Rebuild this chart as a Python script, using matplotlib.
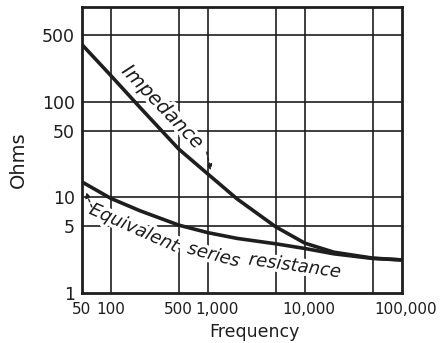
import matplotlib
matplotlib.use("Agg")
import matplotlib.pyplot as plt
import matplotlib.patheffects as pe
from matplotlib.transforms import ScaledTranslation

# values
freq = [50, 100, 200, 500, 1000, 2000, 5000, 10000, 20000, 50000, 100000]
impedance = [400, 188, 87, 32, 17.5, 9.6, 4.9, 3.3, 2.65, 2.3, 2.2]
esr = [14.5, 9.7, 7.2, 5.1, 4.25, 3.7, 3.25, 2.9, 2.55, 2.28, 2.2]

xgrid = [100, 500, 1000, 5000, 10000, 50000]
ygrid = [5, 10, 50, 100, 500]
xticks = [50, 100, 500, 1000, 10000, 100000]
xlabels = ['50', '100', '500', '1,000', '10,000', '100,000']
yticks = [1, 5, 10, 50, 100, 500]
ylabels = ['1', '5', '10', '50', '100', '500']

ink = '#1e1e1e'
halo = [pe.withStroke(linewidth=5, foreground='white')]

fig = plt.figure(figsize=(4.4, 3.43), dpi=100)
ax = fig.add_axes([0.186, 0.147, 0.727, 0.834])
ax.set_xscale('log')
ax.set_yscale('log')
ax.set_xlim(50, 100000)
ax.set_ylim(1, 1000)

for g in xgrid:
    ax.axvline(g, color=ink, lw=1.2, zorder=1)
for g in ygrid:
    ax.axhline(g, color=ink, lw=1.2, zorder=1)

ax.plot(freq, impedance, color=ink, lw=2.6, solid_capstyle='round',
        solid_joinstyle='round', zorder=4)
ax.plot(freq, esr, color=ink, lw=2.6, solid_capstyle='round',
        solid_joinstyle='round', zorder=4)

# curve labels
ax.text(342, 88, 'Impedance', style='italic', fontsize=14, rotation=-46,
        rotation_mode='anchor', ha='center', va='center', color=ink,
        path_effects=halo, zorder=3)
ax.text(172, 4.74, 'Equivalent', style='italic', fontsize=13, rotation=-24,
        rotation_mode='anchor', ha='center', va='center', color=ink,
        path_effects=halo, zorder=3)
ax.text(1148, 2.47, 'series', style='italic', fontsize=13, rotation=-15,
        rotation_mode='anchor', ha='center', va='center', color=ink,
        path_effects=halo, zorder=3)
ax.text(7849, 1.9, 'resistance', style='italic', fontsize=13, rotation=-8,
        rotation_mode='anchor', ha='center', va='center', color=ink,
        path_effects=halo, zorder=3)

arrow = dict(arrowstyle='-|>', color=ink, lw=1.0, linestyle=(0, (2, 2)),
             mutation_scale=8, shrinkA=0, shrinkB=0)
ax.annotate('', xy=(1069, 19.2), xytext=(972, 29.7), arrowprops=arrow, zorder=5)
ax.annotate('', xy=(55, 11.3), xytext=(63.4, 7.9), arrowprops=arrow, zorder=5)

ax.set_xticks(xticks)
ax.set_xticklabels(xlabels)
ax.set_yticks(yticks)
ax.set_yticklabels(ylabels)
ax.minorticks_off()
ax.tick_params(length=0, colors=ink)
ax.tick_params(axis='x', labelsize=11, pad=7)
ax.tick_params(axis='y', labelsize=12.5, pad=5)

# the printed comma labels sit a little right of their grid lines
shifts = {'1,000': 9, '10,000': 4, '100,000': 4}
for lab in ax.get_xticklabels():
    dx = shifts.get(lab.get_text(), 0)
    if dx:
        lab.set_transform(lab.get_transform() +
                          ScaledTranslation(dx / 100, 0, fig.dpi_scale_trans))

for s in ax.spines.values():
    s.set_linewidth(2)
    s.set_color(ink)

ax.set_ylabel('Ohms', fontsize=14, color=ink)
ax.yaxis.set_label_coords(-0.17, 0.463)
ax.set_xlabel('Frequency', fontsize=12.5, color=ink)
ax.xaxis.set_label_coords(0.54, -0.108)

fig.savefig('out.png', dpi=100)
